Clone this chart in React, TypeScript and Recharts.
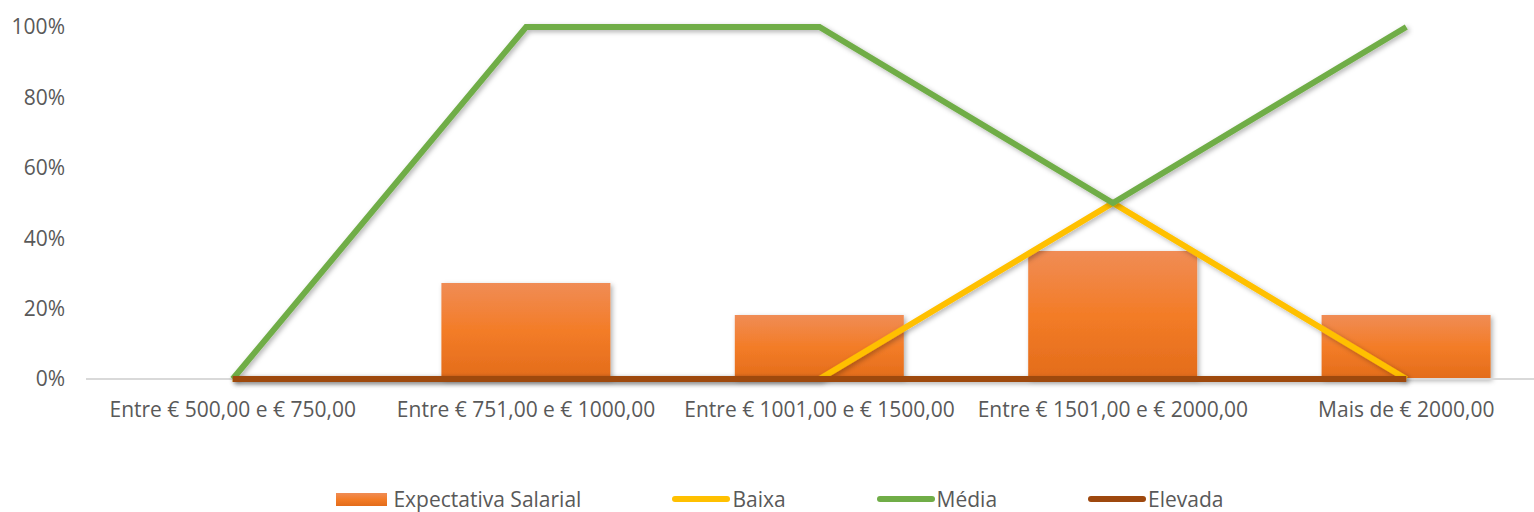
import { ComposedChart, Bar, Line, XAxis, YAxis, Legend, ReferenceLine } from "recharts";

// page has the default 8px body margin; the chart fills the whole window
document.body.style.margin = "0";

const categorias = [
  "Entre € 500,00 e € 750,00",
  "Entre € 751,00 e € 1000,00",
  "Entre € 1001,00 e € 1500,00",
  "Entre € 1501,00 e € 2000,00",
  "Mais de € 2000,00",
];
const expectativa = [0, 27.27, 18.18, 36.36, 18.18];
const baixa = [0, 0, 0, 50, 0];
const media = [0, 100, 100, 50, 100];
const elevada = [0, 0, 0, 0, 0];
const yTicks = [0, 20, 40, 60, 80, 100];

const series = [
  { key: "baixa", nome: "Baixa", cor: "#FFC000" },
  { key: "media", nome: "Média", cor: "#70AD47" },
  { key: "elevada", nome: "Elevada", cor: "#9E480E" },
];

const FONT = "'Open Sans', sans-serif";
const GRAY = "#595959";

const data = categorias.map((c, i) => ({
  categoria: c,
  expectativa: expectativa[i],
  baixa: baixa[i],
  media: media[i],
  elevada: elevada[i],
}));

function Legenda() {
  return (
    <div
      style={{
        display: "flex",
        justifyContent: "center",
        alignItems: "center",
        gap: 91,
        fontFamily: FONT,
        fontSize: 21,
        lineHeight: "28px",
        color: GRAY,
        paddingLeft: 26,
      }}
    >
      <div style={{ display: "flex", alignItems: "center" }}>
        <div
          style={{
            width: 51,
            height: 13,
            background: "linear-gradient(#F08C55, #F37C27 50%, #E36C1B)",
            marginRight: 6,
          }}
        />
        <span>Expectativa Salarial</span>
      </div>
      {series.map((s) => (
        <div key={s.key} style={{ display: "flex", alignItems: "center" }}>
          <div style={{ width: 58, height: 6, borderRadius: 3, background: s.cor, marginRight: 2 }} />
          <span>{s.nome}</span>
        </div>
      ))}
    </div>
  );
}

export default function App() {
  return (
    <div style={{ width: 1534, height: 512, overflow: "hidden", background: "#fff" }}>
      <ComposedChart width={1560} height={512} data={data} margin={{ top: 27, right: 7, left: 0, bottom: 73 }}>
        <defs>
          <linearGradient id="barGrad" x1="0" y1="0" x2="0" y2="1">
            <stop offset="0%" stopColor="#F08C55" />
            <stop offset="50%" stopColor="#F37C27" />
            <stop offset="100%" stopColor="#E36C1B" />
          </linearGradient>
          <filter id="sombra" filterUnits="userSpaceOnUse" x="0" y="0" width="1560" height="512">
            <feDropShadow dx="2" dy="2" stdDeviation="2.5" floodColor="#000" floodOpacity="0.3" />
          </filter>
        </defs>
        <XAxis
          dataKey="categoria"
          axisLine={false}
          tickLine={false}
          tickSize={0}
          tickMargin={23}
          height={60}
          interval={0}
          tick={{ fill: GRAY, fontSize: 21, fontFamily: FONT }}
        />
        <YAxis
          domain={[0, 100]}
          ticks={yTicks}
          width={86}
          axisLine={false}
          tickLine={false}
          tickSize={0}
          tickMargin={21}
          tickFormatter={(v) => `${v}%`}
          tick={{ fill: GRAY, fontSize: 21, fontFamily: FONT }}
        />
        <ReferenceLine y={0} stroke="#D9D9D9" strokeWidth={2} />
        <Legend
          verticalAlign="middle"
          align="center"
          layout="horizontal"
          content={() => <Legenda />}
          wrapperStyle={{ top: 485, left: 0, width: 1534, height: 28 }}
        />
        <Bar
          dataKey="expectativa"
          name="Expectativa Salarial"
          barSize={169}
          fill="url(#barGrad)"
          filter="url(#sombra)"
          isAnimationActive={false}
        />
        {series.map((s) => (
          <Line
            key={s.key}
            dataKey={s.key}
            name={s.nome}
            stroke={s.cor}
            strokeWidth={6}
            dot={false}
            activeDot={false}
            type="linear"
            filter="url(#sombra)"
            isAnimationActive={false}
          />
        ))}
      </ComposedChart>
    </div>
  );
}
